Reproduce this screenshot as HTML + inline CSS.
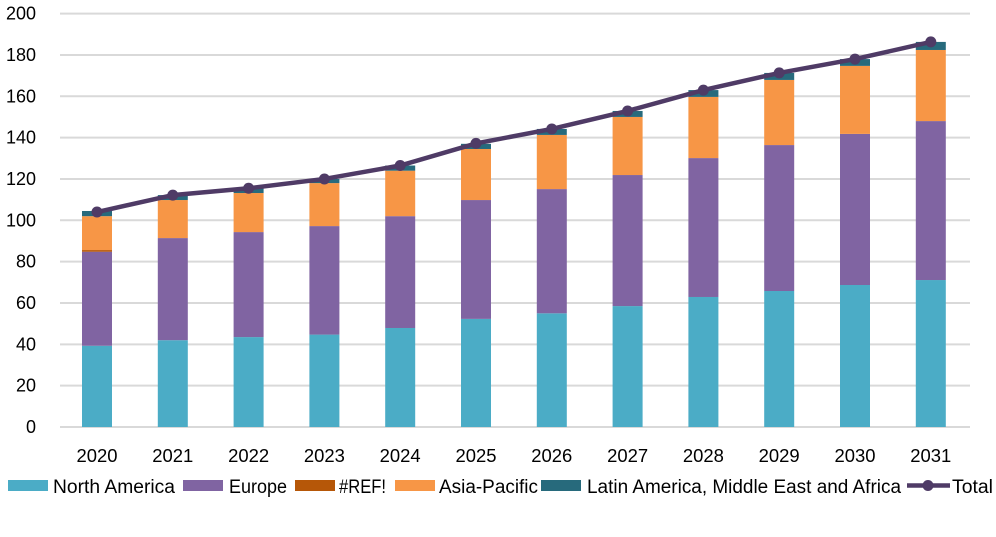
<!DOCTYPE html>
<html><head><meta charset="utf-8"><style>
body{margin:0;background:#fff;width:996px;height:532px;overflow:hidden;font-family:"Liberation Sans",sans-serif}
svg text{font-family:"Liberation Sans",sans-serif;fill:#000}
</style></head><body>
<svg id="chart" width="996" height="532" xmlns="http://www.w3.org/2000/svg"></svg>
<script>
const years=["2020","2021","2022","2023","2024","2025","2026","2027","2028","2029","2030","2031"];
const northAmerica=[39.3,42,43.5,44.7,47.9,52.3,55,58.5,62.9,65.8,68.7,71.1];
const europe=[45.5,49.4,50.8,52.5,54.1,57.5,60.1,63.4,67.2,70.6,73.1,76.9];
const refErr=[0.8,0,0,0,0,0,0,0,0,0,0,0];
const asiaPacific=[16.4,18.4,18.9,20.8,22,24.7,26.2,28.1,29.6,31.5,32.9,34.4];
const latam=[2.5,2.4,2.3,2,2.5,2.5,2.9,2.9,3.3,3.4,3.3,3.9];
const total=[104,112.2,115.5,120,126.5,137.2,144.2,152.9,163,171.3,178,186.3];
const yTicks=[0,20,40,60,80,100,120,140,160,180,200];
const NS="http://www.w3.org/2000/svg";
const svg=document.getElementById('chart');
const y0=427,pxPer=2.067,x0=97,step=75.8,bw=30;
function yS(v){return y0-v*pxPer;}
function xS(i){return x0+i*step;}
function mk(t,a,p){const e=document.createElementNS(NS,t);for(const k in a)e.setAttribute(k,a[k]);(p||svg).appendChild(e);return e;}
yTicks.forEach(v=>{
 const l=mk('line',{x1:60,x2:970,y1:yS(v),y2:yS(v),stroke:'#d9d9d9','stroke-width':2});
 
 
 const t=mk('text',{x:36,y:yS(v)+6,'text-anchor':'end','font-size':18});
 t.textContent=v;
 
 
});
const series=[[northAmerica,'#4bacc6','north-america'],[europe,'#8064a2','europe'],[refErr,'#b65708','ref'],[asiaPacific,'#f79646','asia-pacific'],[latam,'#276a7c','latam']];
years.forEach((yr,i)=>{
 let acc=0;
 series.forEach(s=>{
  const v=s[0][i];
  if(v>0){
   const r=mk('rect',{x:xS(i)-bw/2,y:yS(acc+v),width:bw,height:v*pxPer,fill:s[1]});
   
   
  }
  acc+=v;
 });
 const t=mk('text',{x:xS(i),y:462,'text-anchor':'middle','font-size':18,textLength:41,lengthAdjust:'spacingAndGlyphs'});
 t.textContent=yr;
 
 
});
const pl=mk('polyline',{points:total.map((v,i)=>xS(i)+','+yS(v)).join(' '),fill:'none',stroke:'#4f3b66','stroke-width':4.5});


total.forEach((v,i)=>{
 const c=mk('circle',{cx:xS(i),cy:yS(v),r:5.5,fill:'#4f3b66'});
 
 
});
const leg=[['North America','#4bacc6',8,53,122],['Europe','#8064a2',183,229,58],['#REF!','#b65708',295,339,47],['Asia-Pacific','#f79646',395,439,99],['Latin America, Middle East and Africa','#276a7c',541,587,314]];
leg.forEach(l=>{
 const g=mk('g',{});
 
 
 mk('rect',{x:l[2],y:480,width:40,height:11,fill:l[1]},g);
 const t=mk('text',{x:l[3],y:493,'font-size':19,textLength:l[4],lengthAdjust:'spacingAndGlyphs'},g);t.textContent=l[0];
});
const tg=mk('g',{});


mk('line',{x1:907,x2:950,y1:485.5,y2:485.5,stroke:'#4f3b66','stroke-width':4.5},tg);
mk('circle',{cx:928,cy:485.5,r:5.5,fill:'#4f3b66'},tg);
const tt=mk('text',{x:952,y:493,'font-size':19,textLength:41,lengthAdjust:'spacingAndGlyphs'},tg);tt.textContent='Total';
</script>
</body></html>
